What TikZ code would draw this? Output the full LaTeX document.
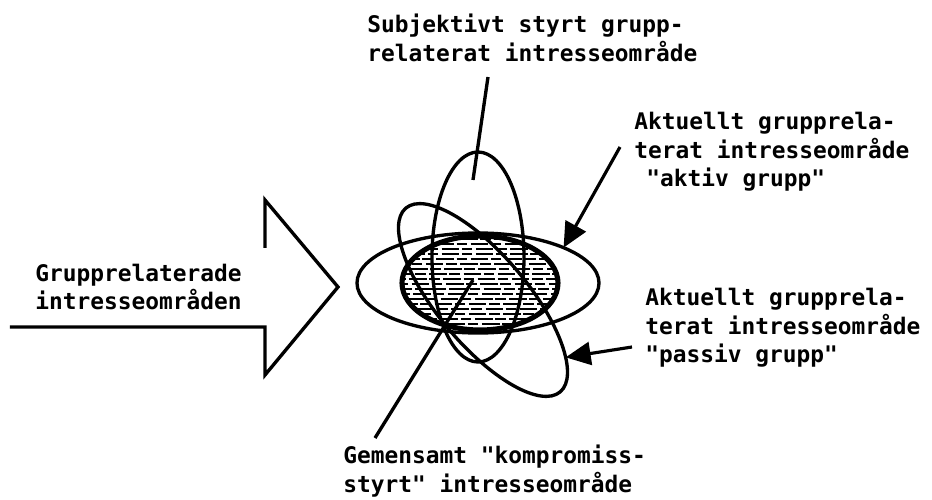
\documentclass[tikz,border=0pt]{standalone}
\usepackage{fontspec}
\newfontfamily\printfont{DejaVu Sans Mono Bold}
\usetikzlibrary{arrows.meta,calc}

\begin{document}
\begin{tikzpicture}[
lbl/.style={
    anchor=west, inner sep=0pt,
    align=left,
    font=\printfont\fontsize{13}{16.2}\selectfont
},
ring/.style={line width=1.9pt},
fat/.style={line width=2.9pt},
hatch/.style={line width=0.65pt, dash pattern=on 6pt off 2pt on 10pt off 1.5pt},
arr/.style={-{Triangle[length=5mm,width=4.6mm]}, line width=1.8pt}
]
\useasboundingbox (0,0) rectangle (18.64,9.98);

% centres of the areas
\coordinate (csubj) at (9.56,4.84);
\coordinate (caktiv) at (9.56,4.32);
\coordinate (ckomp) at (9.6,4.32);
\coordinate (cpassiv) at (9.66,3.98);

% hatched common area
\begin{scope}
\clip (ckomp) ellipse [x radius=1.56, y radius=0.94];
\foreach \y [count=\i] in {3.30,3.40,...,5.35} {
    \pgfmathsetmacro\ph{mod(\i*\i*13+5*\i,23)}
    \draw[hatch, dash phase=\ph pt] (7.9,\y) -- (11.3,\y);
}
\end{scope}

\draw[ring] (csubj) ellipse [x radius=0.92, y radius=2.1];
\draw[ring] (caktiv) ellipse [x radius=2.42, y radius=1.0];
\begin{scope}[shift={(cpassiv)}, rotate=-50]
\draw[ring] (0,0) ellipse [x radius=2.4, y radius=0.9];
\coordinate (tippassiv) at (36:2.4 and 0.9);
\end{scope}
\draw[fat] (ckomp) ellipse [x radius=1.56, y radius=0.94];
\coordinate (tipaktiv) at ($(caktiv)+(45:2.42 and 1.0)$);

% big arrow
\coordinate (a1) at (5.3,5.02);
\coordinate (a2) at (5.3,5.98);
\coordinate (a3) at (6.76,4.24);
\coordinate (a4) at (5.3,2.48);
\coordinate (a5) at (5.3,3.44);
\coordinate (a6) at (0.2,3.44);
\draw[ring] (a1) -- (a2) -- (a3) -- (a4) -- (a5) -- (a6);

% labels
\node[lbl] (lblsubj) at (7.34,9.22) {Subjektivt styrt grupp-\\relaterat intresseområde};
\node[lbl] (lblaktiv) at (12.68,6.94) {Aktuellt grupprela-\\terat intresseområde\\\hspace*{0.24cm}"aktiv grupp"};
\node[lbl] (lblpassiv) at (12.9,3.42) {Aktuellt grupprela-\\terat intresseområde\\"passiv grupp"};
\node[lbl] (lblkomp) at (6.86,0.56) {Gemensamt "kompromiss-\\styrt" intresseområde};
\node[lbl] (lblgrupp) at (0.7,4.24) {Grupprelaterade\\intresseområden};

% pointers
\coordinate (subjtop) at (9.76,8.44);
\coordinate (subjend) at (9.46,6.38);
\coordinate (kompbot) at (7.5,1.22);
\coordinate (kompend) at (9.46,4.38);
\coordinate (aktivtail) at (12.4,7.04);
\coordinate (passivtail) at (12.64,3.04);
\draw[ring] (subjtop) -- (subjend);
\draw[ring] (kompbot) -- (kompend);
\draw[arr] (aktivtail) -- (tipaktiv);
\draw[arr] (passivtail) -- (tippassiv);

\end{tikzpicture}
\end{document}
